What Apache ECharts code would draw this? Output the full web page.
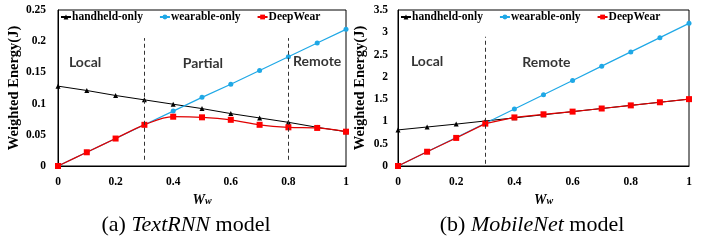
<!DOCTYPE html>
<html>
<head>
<meta charset="utf-8">
<script src="https://cdn.jsdelivr.net/npm/echarts@6/dist/echarts.min.js"></script>
<style>
  html, body {margin: 0; padding: 0; background: #fff;}
  #main {width: 701px; height: 241px;}
</style>
</head>
<body>
<div id="main"></div>
<script>
// x values (w_w)
var wValues = [0, 0.1, 0.2, 0.3, 0.4, 0.5, 0.6, 0.7, 0.8, 0.9, 1];

// (a) TextRNN
var rnnHandheld = [0.128, 0.121, 0.113, 0.106, 0.099, 0.092, 0.084, 0.077, 0.070, 0.062, 0.055];
var rnnWearable = [0, 0.022, 0.044, 0.066, 0.088, 0.110, 0.131, 0.153, 0.175, 0.197, 0.219];
var rnnDeepWear = [0, 0.022, 0.044, 0.066, 0.079, 0.078, 0.074, 0.066, 0.062, 0.061, 0.055];
var rnnRegions = ['Local', 'Partial', 'Remote'];
var rnnRegionX = [0.094, 0.503, 0.9];
var rnnRegionY = [0.166, 0.164, 0.167];
var rnnSplits = [0.3, 0.8];

// (b) MobileNet
var mobHandheld = [0.81, 0.875, 0.94, 1.01, 1.08, 1.15, 1.22, 1.29, 1.36, 1.43, 1.5];
var mobWearable = [0, 0.32, 0.64, 0.96, 1.28, 1.60, 1.92, 2.24, 2.56, 2.88, 3.2];
var mobDeepWear = [0, 0.32, 0.63, 0.95, 1.09, 1.16, 1.22, 1.29, 1.36, 1.43, 1.5];
var mobRegions = ['Local', 'Remote'];
var mobRegionX = [0.1, 0.51];
var mobRegionY = [2.34, 2.33];
var mobSplits = [0.3];

var seriesNames = ['handheld-only', 'wearable-only', 'DeepWear'];
var captions = ['TextRNN', 'MobileNet'];

var serif = '"Liberation Serif", "Times New Roman", serif';
var sans = 'Lato, "Liberation Sans", Arial, sans-serif';

function zip(xs, ys) {
  return xs.map(function (x, i) { return [x, ys[i]]; });
}

function splitLines(xs, y0, y1) {
  return xs.map(function (x) {
    return [{coord: [x, y0]}, {coord: [x, y1]}];
  });
}

function panelSeries(idx, hh, we, dw, smooth, splits, y0, y1, names, rx, ry) {
  return [
    {
      name: 'handheld-only', type: 'line', xAxisIndex: idx, yAxisIndex: idx,
      data: zip(wValues, hh),
      symbol: 'triangle', symbolSize: 5,
      itemStyle: {color: '#000'},
      lineStyle: {color: '#000', width: 1},
      markLine: {
        silent: true,
        symbol: ['none', 'none'],
        label: {show: false},
        lineStyle: {color: '#333', type: [4, 3], width: 1},
        data: splitLines(splits, y0, y1)
      }
    },
    {
      name: 'wearable-only', type: 'line', xAxisIndex: idx, yAxisIndex: idx,
      data: zip(wValues, we),
      symbol: 'circle', symbolSize: 5,
      itemStyle: {color: '#1fa8e6'},
      lineStyle: {color: '#1fa8e6', width: 1.2}
    },
    {
      name: 'DeepWear', type: 'line', xAxisIndex: idx, yAxisIndex: idx,
      data: zip(wValues, dw),
      smooth: smooth,
      symbol: 'rect', symbolSize: 6,
      itemStyle: {color: '#ff0000'},
      lineStyle: {color: '#e00000', width: 1.2}
    },
    {
      name: 'regions' + idx, type: 'scatter', xAxisIndex: idx, yAxisIndex: idx,
      data: names.map(function (n, i) { return {name: n, value: [rx[i], ry[i]]}; }),
      symbolSize: 0,
      silent: true,
      label: {
        show: true, position: 'inside', formatter: '{b}',
        fontFamily: sans, fontWeight: 'bold', fontSize: 14, color: '#000'
      }
    }
  ];
}

var tickFont = {fontFamily: serif, fontWeight: 'bold', fontSize: 11.5, color: '#000'};

function xAxisOf(idx) {
  return {
    type: 'value', gridIndex: idx, min: 0, max: 1, interval: 0.2,
    axisLine: {lineStyle: {color: '#000'}},
    axisTick: {show: false},
    splitLine: {show: false},
    axisLabel: Object.assign({margin: 10}, tickFont),
    name: '{w|W}{s|w}', nameLocation: 'middle', nameGap: 22,
    nameTextStyle: {
      rich: {
        w: {fontFamily: serif, fontStyle: 'italic', fontWeight: 'bold', fontSize: 14, color: '#000'},
        s: {fontFamily: serif, fontStyle: 'italic', fontWeight: 'bold', fontSize: 10, color: '#000', padding: [4, 0, 0, 0]}
      }
    }
  };
}

function yAxisOf(idx, max, interval, gap, margin) {
  return {
    type: 'value', gridIndex: idx, min: 0, max: max, interval: interval,
    axisLine: {show: true, lineStyle: {color: '#000'}},
    axisTick: {show: false},
    splitLine: {show: false},
    axisLabel: Object.assign({margin: margin}, tickFont),
    name: 'Weighted Energy(J)', nameLocation: 'middle', nameGap: gap,
    nameTextStyle: {fontFamily: serif, fontWeight: 'bold', fontSize: 14.5, color: '#000'}
  };
}

function legendOf(left) {
  return {
    data: seriesNames, left: left, top: 11,
    itemWidth: 10, itemHeight: 6, itemGap: 16,
    padding: 0,
    textStyle: {fontFamily: serif, fontWeight: 'bold', fontSize: 11.5, color: '#000', padding: [0, 0, 0, -4]}
  };
}

function captionOf(center, label) {
  return {
    left: center, top: 209, textAlign: 'center',
    text: '(' + label + ') {i|' + captions[label === 'a' ? 0 : 1] + '} model',
    textStyle: {
      fontFamily: serif, fontWeight: 'normal', fontSize: 22, color: '#000',
      rich: {i: {fontFamily: serif, fontStyle: 'italic', fontSize: 22, color: '#000'}}
    }
  };
}

var chart = echarts.init(document.getElementById('main'), null, {renderer: 'canvas'});
chart.setOption({
  animation: false,
  backgroundColor: '#fff',
  title: [captionOf(181, 'a'), captionOf(527, 'b')],
  legend: [legendOf(60), legendOf(400)],
  grid: [
    {left: 58, top: 10, width: 288, height: 156, show: true, borderColor: '#000', borderWidth: 1},
    {left: 398, top: 10, width: 291, height: 156, show: true, borderColor: '#000', borderWidth: 1}
  ],
  xAxis: [xAxisOf(0), xAxisOf(1)],
  yAxis: [yAxisOf(0, 0.25, 0.05, 33, 12), yAxisOf(1, 3.5, 0.5, 30, 10)],
  series: panelSeries(0, rnnHandheld, rnnWearable, rnnDeepWear, 0.35, rnnSplits, 0.01, 0.205,
                      rnnRegions, rnnRegionX, rnnRegionY)
    .concat(panelSeries(1, mobHandheld, mobWearable, mobDeepWear, false, mobSplits, 0.05, 2.9,
                        mobRegions, mobRegionX, mobRegionY))
});
</script>
</body>
</html>
